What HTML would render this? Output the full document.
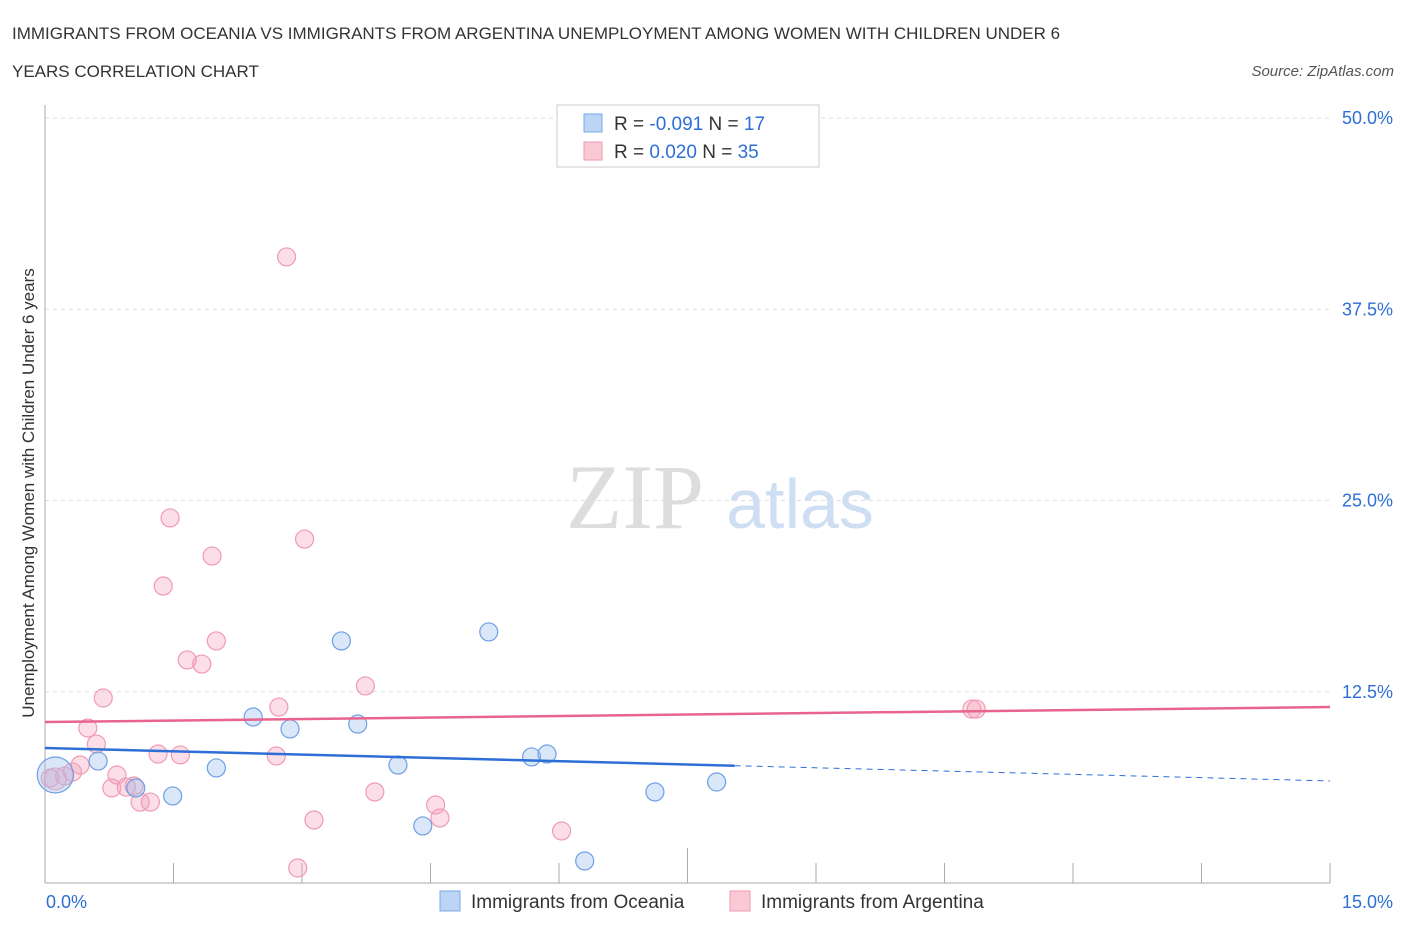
<!DOCTYPE html>
<html><head><meta charset="utf-8"><style>
body{margin:0;background:#fff;font-family:"Liberation Sans",sans-serif}
</style></head><body>
<svg id="c" width="1406" height="930" xmlns="http://www.w3.org/2000/svg" style="font-family:'Liberation Sans',sans-serif">
<text x="12" y="39" font-size="17" fill="#333">IMMIGRANTS FROM OCEANIA VS IMMIGRANTS FROM ARGENTINA UNEMPLOYMENT AMONG WOMEN WITH CHILDREN UNDER 6</text>
<text x="12" y="77" font-size="17" fill="#333">YEARS CORRELATION CHART</text>
<text x="1394" y="76" font-size="15" fill="#555" font-style="italic" text-anchor="end">Source: ZipAtlas.com</text>
<text x="635" y="528" font-size="92" fill="#ddd" font-family="Liberation Serif" text-anchor="middle">ZIP</text>
<text x="800" y="528" font-size="70" fill="#cfdff3" text-anchor="middle">atlas</text>
<g id="grid"></g><g id="axes"></g><g id="marks"></g>
<text transform="translate(34,493) rotate(-90)" font-size="17" fill="#333" text-anchor="middle">Unemployment Among Women with Children Under 6 years</text>
<g>
<rect x="557" y="105" width="262" height="62" fill="#fff" stroke="#ccc"/>
<rect x="584" y="114" width="18" height="18" fill="#bcd5f5" stroke="#7aa8e8"/>
<rect x="584" y="142" width="18" height="18" fill="#f9c9d6" stroke="#ef9ab2"/>
<text x="614" y="130" font-size="19" fill="#333">R = <tspan fill="#2d6fd6">-0.091</tspan>   N =  <tspan fill="#2d6fd6">17</tspan></text>
<text x="614" y="158" font-size="19" fill="#333">R =  <tspan fill="#2d6fd6">0.020</tspan>   N = <tspan fill="#2d6fd6">35</tspan></text>
</g>
<g>
<rect x="440" y="891" width="20" height="20" fill="#bcd5f5" stroke="#7aa8e8"/>
<text x="471" y="908" font-size="19" fill="#333">Immigrants from Oceania</text>
<rect x="730" y="891" width="20" height="20" fill="#f9c9d6" stroke="#ef9ab2"/>
<text x="761" y="908" font-size="19" fill="#333">Immigrants from Argentina</text>
</g>
</svg>
<script>
const yTicks=[12.5,25,37.5,50];
const yTickLabels=["12.5%","25.0%","37.5%","50.0%"];
const xTickLabels=["0.0%","15.0%"];
const blueX=[0.12,0.62,1.06,1.49,2.00,2.43,2.86,3.46,3.65,4.12,4.41,5.18,5.68,5.86,6.30,7.12,7.84];
const blueY=[7.06,7.97,6.21,5.69,7.52,10.85,10.07,15.82,10.39,7.71,3.73,16.41,8.24,8.43,1.44,5.95,6.60];
const pinkX=[0.06,0.23,0.32,0.41,0.50,0.60,0.68,0.78,0.84,0.95,1.04,1.11,1.23,1.32,1.38,1.46,1.58,1.66,1.83,1.95,2.00,2.70,2.73,2.82,2.95,3.03,3.14,3.74,3.85,4.56,4.61,6.03,10.82,10.87,0.12];
const pinkY=[6.86,6.99,7.25,7.71,10.13,9.08,12.09,6.21,7.06,6.27,6.34,5.29,5.29,8.43,19.41,23.86,8.37,14.58,14.31,21.37,15.82,8.30,11.50,40.92,0.98,22.48,4.12,12.88,5.95,5.10,4.25,3.40,11.37,11.37,6.80];
const blueTrend=[8.82,6.67];
const pinkTrend=[10.52,11.50];
const blueSolidEnd=8.05;
const NS="http://www.w3.org/2000/svg";
const X=v=>45+v*(1285/15), Y=v=>883-v*15.3;
function mk(t,a,p){const e=document.createElementNS(NS,t);for(const k in a)e.setAttribute(k,a[k]);p.appendChild(e);return e;}
const g=document.getElementById('grid'),ax=document.getElementById('axes'),m=document.getElementById('marks');
yTicks.forEach((t,i)=>{
 const l=mk('line',{x1:45,x2:1330,y1:Y(t),y2:Y(t),stroke:'#ddd','stroke-dasharray':'4,4'},g);
 
 
 const tx=mk('text',{x:1393,y:Y(t)+6,'font-size':18,fill:'#2d6fd6','text-anchor':'end'},g);
 tx.textContent=yTickLabels[i];
 
 
});
const yl=mk('line',{x1:45,x2:45,y1:105,y2:883,stroke:'#aaa'},ax);


const xl=mk('line',{x1:45,x2:1330,y1:883,y2:883,stroke:'#aaa'},ax);


for(let i=0;i<=10;i++){
 const v=i*1.5;
 const t=mk('line',{x1:X(v),x2:X(v),y1:i==5?848:863,y2:883,stroke:'#aaa'},ax);
 
 
}
[[0,'start',46],[15,'end',1393]].forEach((d,i)=>{
 const tx=mk('text',{x:d[2],y:908,'font-size':18,fill:'#2d6fd6','text-anchor':d[1]},ax);
 tx.textContent=xTickLabels[i];
 
 
});
pinkX.forEach((x,i)=>{
 const c=mk('circle',{cx:X(x),cy:Y(pinkY[i]),r:i==34?11:9,fill:'rgba(244,160,185,0.35)',stroke:'#f09ab3','stroke-width':1.2},m);
 
 
});
blueX.forEach((x,i)=>{
 const c=mk('circle',{cx:X(x),cy:Y(blueY[i]),r:i==0?18:9,fill:'rgba(160,195,240,0.4)',stroke:'#6f9fe3','stroke-width':1.2},m);
 
 
});
const bAt=v=>blueTrend[0]+(blueTrend[1]-blueTrend[0])*v/15;
const pl=mk('line',{x1:X(0),x2:X(15),y1:Y(pinkTrend[0]),y2:Y(pinkTrend[1]),stroke:'#e8648c','stroke-width':2.5},m);


const bl=mk('line',{x1:X(0),x2:X(blueSolidEnd),y1:Y(bAt(0)),y2:Y(bAt(blueSolidEnd)),stroke:'#2d6fd6','stroke-width':2.5},m);


const bd=mk('line',{x1:X(blueSolidEnd),x2:X(15),y1:Y(bAt(blueSolidEnd)),y2:Y(bAt(15)),stroke:'#2d6fd6','stroke-width':1,'stroke-dasharray':'6,5'},m);


</script>
</body></html>
